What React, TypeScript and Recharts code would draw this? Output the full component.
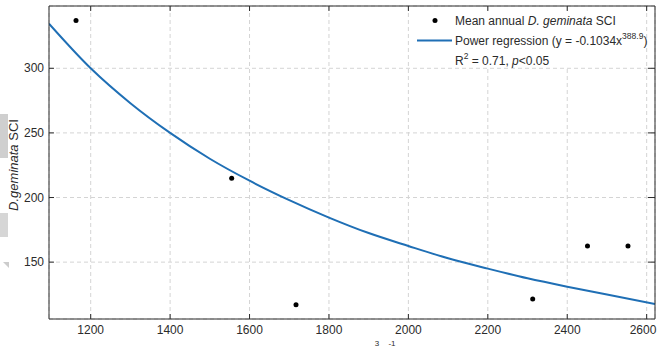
import React from "react";
import {
    ComposedChart,
    Line,
    Scatter,
    XAxis,
    YAxis,
    CartesianGrid,
} from "recharts";

// discharge (x) and SCI (y) of the yearly means
const obsQ = [1163, 1555, 1717, 2313, 2451, 2553];
const obsSci = [337, 215, 117, 121.5, 162.5, 162.5];

// fitted power curve
const curveQ = [1095, 1200, 1300, 1400, 1500, 1600, 1700, 1800, 1900, 2000, 2100, 2200, 2300, 2400, 2500, 2621];
const curveSci = [334.5, 300, 273, 250, 230, 213, 198, 184.5, 172.5, 162.5, 153, 145, 137.5, 131, 125, 117.5];

const xTicks = [1200, 1400, 1600, 1800, 2000, 2200, 2400, 2600];
const yTicks = [150, 200, 250, 300];

const curveData = curveQ.map((q, i) => ({ q, sci: curveSci[i] }));
const obsData = obsQ.map((q, i) => ({ q, sci: obsSci[i] }));

const INK = "#2b2b2b";
const FONT = "'Liberation Sans', Arial, sans-serif";
const X_DOMAIN = [1095, 2621];
const Y_DOMAIN = [106, 348.2];

// ticks point inwards, like the matlab box
const BottomTick = (props: any) => {
    const { x, y, payload } = props;
    // keep the last label inside the page
    const tx = Math.min(x, 643);
    return (
        <g>
            <line x1={x} y1={y} x2={x} y2={y - 5} stroke={INK} />
            <text x={tx} y={y + 15} textAnchor="middle" fontSize={12} fill={INK} fontFamily={FONT}>
                {payload.value}
            </text>
        </g>
    );
};

const TopTick = (props: any) => {
    const { x, y } = props;
    return <line x1={x} y1={y} x2={x} y2={y + 5} stroke={INK} />;
};

const LeftTick = (props: any) => {
    const { x, y, payload } = props;
    return (
        <g>
            <line x1={x} y1={y} x2={x + 5} y2={y} stroke={INK} />
            <text x={x - 5} y={y + 4} textAnchor="end" fontSize={12} fill={INK} fontFamily={FONT}>
                {payload.value}
            </text>
        </g>
    );
};

const RightTick = (props: any) => {
    const { x, y } = props;
    return <line x1={x} y1={y} x2={x - 7} y2={y} stroke={INK} />;
};

const Dot = (props: any) => {
    const { cx, cy } = props;
    return <circle cx={cx} cy={cy} r={2.5} fill="#000" />;
};

export default function App() {
    return (
        <div style={{ position: "absolute", left: 0, top: 0, width: 657, height: 347, background: "#fff" }}>
            <ComposedChart
                width={657}
                height={347}
                data={curveData}
                margin={{ top: 0, right: 0, bottom: 0, left: 0 }}
            >
                <CartesianGrid stroke="#d4d4d4" strokeDasharray="4 3" />
                <XAxis
                    dataKey="q"
                    type="number"
                    domain={X_DOMAIN}
                    ticks={xTicks}
                    allowDataOverflow
                    height={28}
                    tickSize={0}
                    tickMargin={0}
                    tickLine={false}
                    axisLine={{ stroke: INK }}
                    tick={<BottomTick />}
                    interval={0}
                />
                <XAxis
                    xAxisId="top"
                    orientation="top"
                    dataKey="q"
                    type="number"
                    domain={X_DOMAIN}
                    ticks={xTicks}
                    allowDataOverflow
                    height={6}
                    tickSize={0}
                    tickMargin={0}
                    tickLine={false}
                    axisLine={{ stroke: INK }}
                    tick={<TopTick />}
                    interval={0}
                />
                <YAxis
                    type="number"
                    domain={Y_DOMAIN}
                    ticks={yTicks}
                    allowDataOverflow
                    width={49}
                    tickSize={0}
                    tickMargin={0}
                    tickLine={false}
                    axisLine={{ stroke: INK }}
                    tick={<LeftTick />}
                    interval={0}
                />
                <YAxis
                    yAxisId="r"
                    orientation="right"
                    type="number"
                    domain={Y_DOMAIN}
                    ticks={yTicks}
                    allowDataOverflow
                    width={2}
                    tickSize={0}
                    tickMargin={0}
                    tickLine={false}
                    axisLine={{ stroke: INK }}
                    tick={<RightTick />}
                    interval={0}
                />
                <Line
                    dataKey="sci"
                    type="monotone"
                    stroke="#1f6fb5"
                    strokeWidth={2}
                    dot={false}
                    isAnimationActive={false}
                />
                <Scatter data={obsData} dataKey="sci" shape={<Dot />} isAnimationActive={false} />
            </ComposedChart>

            <svg
                width={657}
                height={347}
                style={{ position: "absolute", left: 0, top: 0, pointerEvents: "none", overflow: "hidden" }}
                fontFamily={FONT}
            >
                {/* grey scan marks on the left edge */}
                <rect x={0} y={114} width={8} height={44} fill="#cfcfcf" />
                <rect x={0} y={213} width={8} height={24} fill="#d6d6d6" />
                <polygon points="3,262 9,262 9,268" fill="#cccccc" />

                {/* legend */}
                <rect x={410} y={12} width={233} height={54} fill="#fff" />
                <circle cx={435} cy={20.5} r={2.5} fill="#000" />
                <text x={455} y={25} fontSize={12} fill={INK}>
                    Mean annual <tspan fontStyle="italic">D. geminata</tspan> SCI
                </text>
                <line x1={417} y1={40.5} x2={452} y2={40.5} stroke="#1f6fb5" strokeWidth={2} />
                <text x={455} y={45} fontSize={12} fill={INK}>
                    Power regression (y = -0.1034x
                    <tspan fontSize={8.5} dy={-6}>388.9</tspan>
                    <tspan dy={6}>)</tspan>
                </text>
                <text x={455} y={65} fontSize={12} fill={INK}>
                    R<tspan fontSize={8.5} dy={-6}>2</tspan>
                    <tspan dy={6}> = 0.71, </tspan>
                    <tspan fontStyle="italic">p</tspan>&lt;0.05
                </text>

                {/* y axis title */}
                <text
                    transform="translate(18,165) rotate(-90)"
                    textAnchor="middle"
                    fontSize={13}
                    fill={INK}
                >
                    <tspan fontStyle="italic">D.geminata</tspan> SCI
                </text>

                {/* x axis title, only its superscripts show at the bottom edge */}
                <text x={377} y={346} fontSize={8} fill={INK} textAnchor="middle">3</text>
                <text x={392} y={346} fontSize={8} fill={INK} textAnchor="middle">-1</text>
            </svg>
        </div>
    );
}
